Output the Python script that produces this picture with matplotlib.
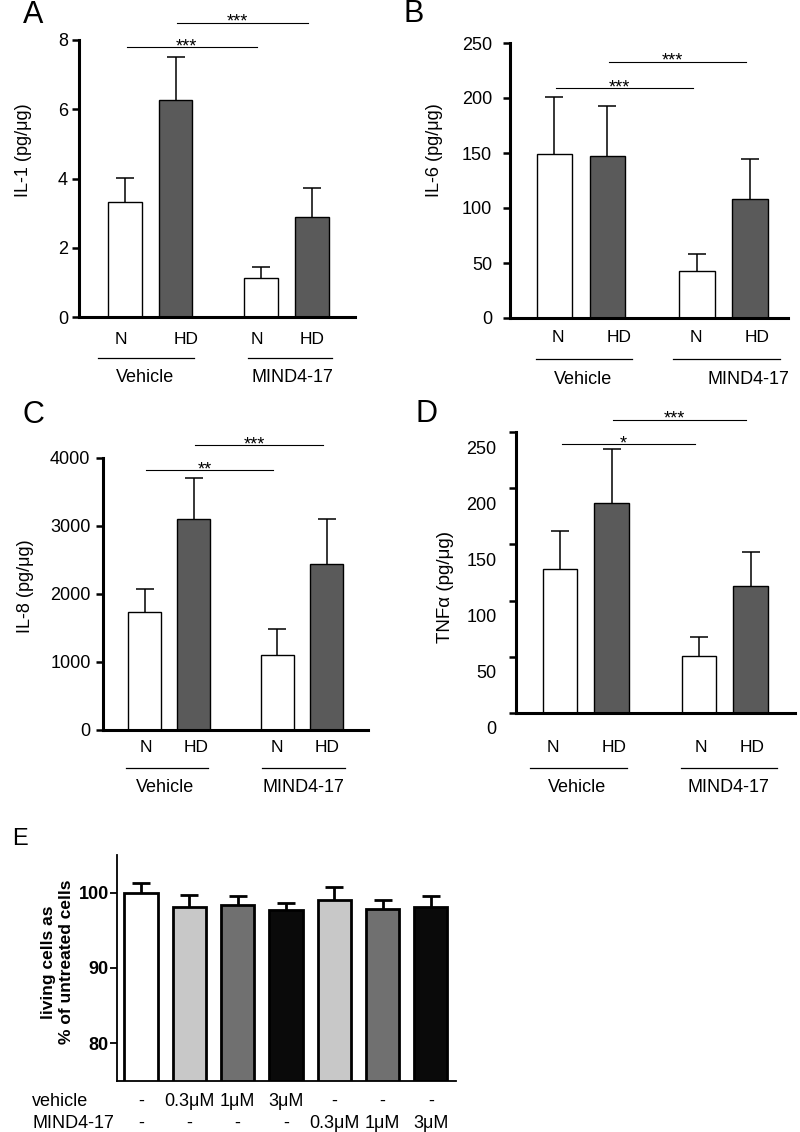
import matplotlib
matplotlib.use('Agg')
import matplotlib.pyplot as plt
import matplotlib.transforms as mtransforms
import numpy as np

plt.rcParams['font.family'] = ['Liberation Sans', 'DejaVu Sans']

# ---------------- data ----------------
groups = ['Vehicle', 'MIND4-17']
genotypes = ['N', 'HD', 'N', 'HD']

il1_mean = [3.32, 6.27, 1.13, 2.90]
il1_sem = [0.70, 1.24, 0.32, 0.83]
il6_mean = [149, 147, 43, 108]
il6_sem = [52, 46, 15, 37]
il8_mean = [1740, 3103, 1098, 2441]
il8_sem = [329, 607, 382, 666]
tnf_mean = [128, 187, 51, 113]
tnf_sem = [34, 48, 17, 30]

sig_A = [(0, 2, '***'), (1, 3, '***')]
sig_B = [(0, 2, '***'), (1, 3, '***')]
sig_C = [(0, 2, '**'), (1, 3, '***')]
sig_D = [(0, 2, '*'), (1, 3, '***')]

viab_mean = [100.0, 98.15, 98.4, 97.7, 99.0, 97.8, 98.1]
viab_sem = [1.3, 1.55, 1.2, 0.9, 1.8, 1.2, 1.4]
vehicle_row = ['-', '0.3\u03bcM', '1\u03bcM', '3\u03bcM', '-', '-', '-']
mind_row = ['-', '-', '-', '-', '0.3\u03bcM', '1\u03bcM', '3\u03bcM']

# ---------------- layout ----------------
W, H = 800, 1132
fig = plt.figure(figsize=(8, 11.32), dpi=100)
DARK = '#5a5a5a'


def px_axes(l, t, r, b):
    return fig.add_axes([l / W, 1 - b / H, (r - l) / W, (b - t) / H])


def cytokine_panel(lay, ylabel, means, sems, sig, ylim, yticks):
    l, t, r, b = lay['rect']
    ax = px_axes(l, t, r, b)
    c0, u = lay['c0'], lay['unit']

    def X(px):
        return (px - c0) / u

    def Yf(px):  # pixel y -> axes fraction
        return (b - px) / (b - t)

    pos = np.array([0, 1, 2.7, 3.7])
    ax.set_xlim(X(l), X(r))
    ax.set_ylim(*ylim)
    ax.bar(pos, means, width=0.67, color=['white', DARK, 'white', DARK],
           edgecolor='black', linewidth=1.0, zorder=2)
    # symmetric bars drawn behind the columns: only the upper half shows
    ax.errorbar(pos, means, yerr=sems, fmt='none',
                ecolor='black', elinewidth=1.1, capsize=6.5, capthick=1.1,
                zorder=1)
    for s in ['top', 'right']:
        ax.spines[s].set_visible(False)
    for s in ['left', 'bottom']:
        ax.spines[s].set_linewidth(2.2)
    ax.set_xticks([])
    ax.set_yticks(yticks)
    ax.set_yticklabels([str(v) for v in yticks])
    ax.tick_params(axis='y', length=5, width=1.8, pad=lay['pad'], labelsize=13)
    ax.set_ylabel(ylabel, fontsize=lay['ylsize'], va='center', ha='center')
    ax.yaxis.set_label_coords((lay['ylx'] - l) / (r - l), Yf(lay['yly']))

    tr = ax.get_xaxis_transform()
    # genotype labels
    for txt, xpx in zip(genotypes, lay['gx']):
        ax.text(X(xpx), Yf(lay['gy']), txt, transform=tr, ha='center',
                va='center', fontsize=12.5, clip_on=False)
    # group lines + labels
    for (x0, x1), name, cx in zip(lay['glines'], groups, lay['gcx']):
        ax.plot([X(x0), X(x1)], [Yf(lay['ly'])] * 2, color='black', lw=0.9,
                transform=tr, clip_on=False)
        ax.text(X(cx), Yf(lay['vy']), name, transform=tr, ha='center',
                va='center', fontsize=13, clip_on=False)
    # significance
    for (i, j, stars), yv in zip(sig, lay['sigy']):
        xa, xb = pos[i] + 0.03, pos[j] - 0.08
        ax.plot([xa, xb], [yv, yv], color='black', lw=0.8, clip_on=False)
        ax.annotate(stars, xy=((xa + xb) / 2 - 0.1, yv), xytext=(0, -3),
                    textcoords='offset points', ha='center', va='baseline',
                    fontsize=13, annotation_clip=False)
    return ax


lay_A = dict(rect=(79, 40, 355, 317), c0=125, unit=50.5, pad=3, ylsize=13,
             ylx=24, yly=150, gx=[121, 186, 257, 312], gy=339,
             glines=[(98, 194), (248, 332)], ly=358, gcx=[145, 292], vy=377,
             sigy=[7.8, 8.5])
lay_B = dict(rect=(510, 43, 788, 318), c0=554.5, unit=52.8, pad=8, ylsize=13,
             ylx=435, yly=150, gx=[558, 619, 696, 757], gy=337,
             glines=[(536, 632), (673, 780)], ly=359, gcx=[583, 748], vy=379,
             sigy=[209, 233])
lay_C = dict(rect=(103, 458, 368, 730), c0=144.5, unit=49.2, pad=4, ylsize=13,
             ylx=25, yly=586, gx=[146, 196, 277, 327], gy=747,
             glines=[(126, 208), (262, 345)], ly=768, gcx=[165, 303], vy=787,
             sigy=[3824, 4191])
lay_D = dict(rect=(516, 432, 795, 713), c0=560, unit=51.5, pad=9, ylsize=13.5,
             ylx=445, yly=587, gx=[553, 614, 701, 752], gy=747,
             glines=[(530, 627), (681, 777)], ly=768, gcx=[577, 728], vy=787,
             sigy=[239, 261])

cytokine_panel(lay_A, 'IL-1 (pg/\u03bcg)', il1_mean, il1_sem, sig_A, (0, 8),
               [0, 2, 4, 6, 8])
cytokine_panel(lay_B, 'IL-6 (pg/\u03bcg)', il6_mean, il6_sem, sig_B, (0, 250),
               [0, 50, 100, 150, 200, 250])
cytokine_panel(lay_C, 'IL-8 (pg/\u03bcg)', il8_mean, il8_sem, sig_C, (0, 4000),
               [0, 1000, 2000, 3000, 4000])
axD = cytokine_panel(lay_D, 'TNF\u03b1 (pg/\u03bcg)', tnf_mean, tnf_sem, sig_D,
                     (0, 250), [0, 50, 100, 150, 200, 250])
# tick labels in panel D sit slightly below their tick marks
shift = mtransforms.ScaledTranslation(0, -15 / 100, fig.dpi_scale_trans)
for tk in axD.yaxis.get_major_ticks():
    tk.label1.set_transform(tk.label1.get_transform() + shift)

# ---------------- panel E ----------------
lE, tE, rE, bE = 117, 855, 456, 1081
axE = px_axes(lE, tE, rE, bE)
c0E, uE = 141, 48.3
posE = np.arange(len(viab_mean))
axE.set_xlim((lE - c0E) / uE, (rE - c0E) / uE)
axE.set_ylim(75, 105)
colorsE = ['white', '#c8c8c8', '#707070', '#0a0a0a', '#c8c8c8', '#707070', '#0a0a0a']
axE.bar(posE, viab_mean, width=0.69, color=colorsE, edgecolor='black',
        linewidth=2.0, zorder=2)
axE.errorbar(posE, viab_mean, yerr=viab_sem,
             fmt='none', ecolor='black', elinewidth=2.0, capsize=6.5,
             capthick=2.0, zorder=1)
for s in ['top', 'right']:
    axE.spines[s].set_visible(False)
for s in ['left', 'bottom']:
    axE.spines[s].set_linewidth(1.3)
axE.set_xticks([])
axE.set_yticks([80, 90, 100])
axE.set_yticklabels(['80', '90', '100'], fontweight='bold')
axE.tick_params(axis='y', length=5, width=1.3, pad=1, labelsize=13)
axE.set_ylabel('living cells as\n% of untreated cells', fontsize=12.5,
               fontweight='bold', va='center', ha='center')
axE.yaxis.set_label_coords((57.5 - lE) / (rE - lE), (bE - 962) / (bE - tE))

trE = axE.get_xaxis_transform()
for row, ypx in [(vehicle_row, 1101), (mind_row, 1123)]:
    for p, txt in zip(posE, row):
        axE.text(p, (bE - ypx) / (bE - tE), txt, transform=trE, ha='center',
                 va='center', fontsize=13, clip_on=False)
fig.text(32 / W, 1 - 1101 / H, 'vehicle', ha='left', va='center', fontsize=13)
fig.text(32 / W, 1 - 1123 / H, 'MIND4-17', ha='left', va='center', fontsize=13)

# ---------------- panel letters ----------------
for letter, x, y, fs in [('A', 23, 23, 22), ('B', 403, 22, 22), ('C', 23, 423, 22),
                         ('D', 415, 422, 22), ('E', 12, 845, 17)]:
    fig.text(x / W, 1 - y / H, letter, ha='left', va='baseline', fontsize=fs)

fig.savefig('out.png', dpi=100)
